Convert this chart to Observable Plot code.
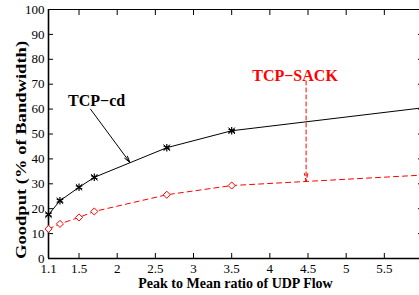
<!DOCTYPE html>
<html>
<head>
<meta charset="utf-8">
<script src="https://cdn.jsdelivr.net/npm/d3@7"></script>
<script src="https://cdn.jsdelivr.net/npm/@observablehq/plot@0.6"></script>
<style>
  html, body { margin: 0; padding: 0; background: white; overflow: hidden; }
  svg, svg text { font-family: "Liberation Serif", "Times New Roman", Times, serif !important; }
</style>
</head>
<body>
<div id="chart"></div>
<script>
const ratio   = [1.1, 1.25, 1.5, 1.7, 2.65, 3.5, 6];
const tcpCd   = [17.6, 23.2, 28.6, 32.6, 44.5, 51.3, 60.5];
const tcpSack = [11.9, 13.9, 16.5, 18.9, 25.6, 29.3, 33.5];
const xTicks = [1.1, 1.5, 2, 2.5, 3, 3.5, 4, 4.5, 5, 5.5];
const yTicks = [0, 10, 20, 30, 40, 50, 60, 70, 80, 90, 100];
const xTitle = "Peak to Mean ratio of UDP Flow";
const yTitle = "Goodput (% of Bandwidth)";
const seriesLabels = [
  {text: "TCP\u2212cd", x: 1.73, y: 63.3, color: "black"},
  {text: "TCP\u2212SACK", x: 4.33, y: 73.3, color: "red"}
];
const cdArrow = [{x1: 1.65, y1: 60, x2: 2.166, y2: 38.6}];
const sackArrow = [{x1: 4.475, y1: 71.3, x2: 4.475, y2: 31}];

const data = ratio.map((r, i) => ({r, cd: tcpCd[i], sack: tcpSack[i]}));
const serif = "Liberation Serif";

const chart = Plot.plot({
  width: 419,
  height: 295,
  marginLeft: 48,
  marginRight: -3,
  marginTop: 9,
  marginBottom: 37,
  x: {domain: [1.1, 6]},
  y: {domain: [0, 100]},
  style: {fontFamily: serif, fontSize: "13px", color: "black", background: "white"},
  marks: [
    Plot.frame({stroke: "black", strokeWidth: 1}),
    Plot.ruleY([0], {stroke: "black", strokeWidth: 1.6}),
    Plot.ruleX([1.1], {stroke: "black", strokeWidth: 1.6}),
    Plot.axisX({ticks: xTicks, anchor: "bottom", tickSize: 0, tickPadding: 5, tickFormat: d => String(d), label: null, fontSize: 13}),
    Plot.axisX({ticks: xTicks, anchor: "bottom", tickSize: -5, tickFormat: () => "", label: null}),
    Plot.axisX({ticks: xTicks, anchor: "top", tickSize: -5, tickFormat: () => "", label: null}),
    Plot.axisY({ticks: yTicks, anchor: "left", tickSize: 0, tickPadding: 4, tickFormat: d => String(d), label: null, fontSize: 13}),
    Plot.axisY({ticks: yTicks, anchor: "left", tickSize: -5, tickFormat: () => "", label: null}),
    Plot.axisY({ticks: yTicks, anchor: "right", tickSize: -5, tickFormat: () => "", label: null}),
    Plot.line(data, {x: "r", y: "cd", stroke: "black", strokeWidth: 1}),
    Plot.line(data, {x: "r", y: "sack", stroke: "red", strokeWidth: 1, strokeDasharray: "5,4"}),
    Plot.dot(data, {x: "r", y: "cd", symbol: "asterisk", stroke: "black", r: 3.5, strokeWidth: 1.2}),
    Plot.dot(data, {x: "r", y: "cd", symbol: "times", stroke: "black", r: 3, strokeWidth: 1}),
    Plot.dot(data, {x: "r", y: "sack", symbol: "diamond2", stroke: "red", fill: "white", r: 3.2, strokeWidth: 1}),
    Plot.arrow(cdArrow, {x1: "x1", y1: "y1", x2: "x2", y2: "y2", stroke: "black", strokeWidth: 1, headLength: 10, headAngle: 30}),
    Plot.arrow(sackArrow, {x1: "x1", y1: "y1", x2: "x2", y2: "y2", stroke: "red", strokeWidth: 1, strokeDasharray: "4,3", headLength: 12, headAngle: 25}),
    Plot.text(seriesLabels, {x: "x", y: "y", text: "text", fill: "color", fontSize: 16, fontWeight: "bold", fontFamily: serif}),
    Plot.text([xTitle], {frameAnchor: "bottom", text: d => d, dy: 25, fontSize: 14, fontWeight: "bold", fontFamily: serif, lineAnchor: "middle"}),
    Plot.text([yTitle], {x: 1.1, y: 43.6, text: d => d, dx: -27, rotate: -90, fontSize: 14, fontWeight: "bold", fontFamily: serif, lineAnchor: "middle", className: "ylab"})
  ]
});
document.getElementById("chart").appendChild(chart);
d3.select(chart).selectAll(".ylab text").attr("textLength", 218).attr("lengthAdjust", "spacingAndGlyphs");
</script>
</body>
</html>
